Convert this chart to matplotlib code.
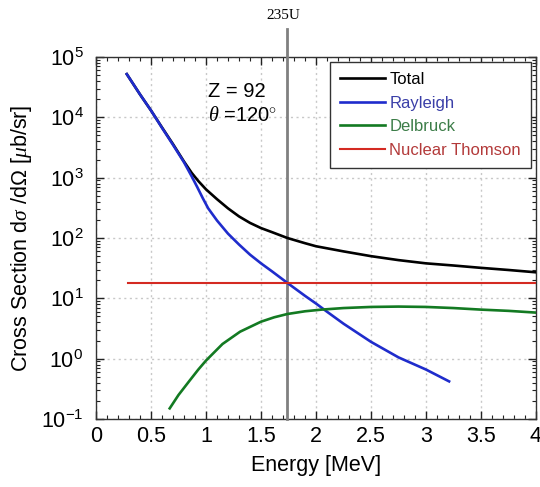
import matplotlib
matplotlib.use("Agg")
import matplotlib.pyplot as plt
from matplotlib.ticker import LogLocator, MultipleLocator, NullFormatter

plt.rcParams['font.family'] = ['Liberation Sans', 'DejaVu Sans']
plt.rcParams['mathtext.fontset'] = 'custom'
plt.rcParams['mathtext.rm'] = 'Liberation Sans'
plt.rcParams['mathtext.it'] = 'Liberation Serif:italic'
plt.rcParams['mathtext.bf'] = 'Liberation Sans:bold'

# Differential cross sections for 235U at theta = 120 deg (microbarn / sr)
total_E = [0.28, 0.4, 0.5, 0.6, 0.7, 0.8, 0.87, 0.93, 1.0, 1.1, 1.2, 1.3, 1.4, 1.5,
           1.6, 1.74, 1.9, 2.0, 2.25, 2.5, 2.75, 3.0, 3.25, 3.5, 3.75, 4.0]
total_xs = [5.2e4, 2.4e4, 1.3e4, 6.8e3, 3.6e3, 1.85e3, 1.2e3, 880, 640, 440, 310, 228,
            178, 146, 125, 100, 82, 73, 60, 50, 43, 38, 35, 32, 29.5, 27]

rayleigh_E = [0.28, 0.4, 0.5, 0.6, 0.7, 0.8, 0.87, 0.92, 0.97, 1.02, 1.1, 1.2, 1.3,
              1.4, 1.5, 1.6, 1.74, 1.9, 2.0, 2.1, 2.25, 2.5, 2.75, 3.0, 3.21]
rayleigh_xs = [5.2e4, 2.4e4, 1.3e4, 6.7e3, 3.5e3, 1.8e3, 1.05e3, 700, 460, 310, 195,
               118, 78, 53, 38, 28, 18, 11, 8.2, 6.0, 3.8, 1.9, 1.05, 0.66, 0.42]

delbruck_E = [0.67, 0.75, 0.85, 0.93, 1.0, 1.15, 1.31, 1.5, 1.62, 1.74, 1.9, 2.05,
              2.25, 2.5, 2.75, 3.0, 3.25, 3.5, 3.75, 4.0]
delbruck_xs = [0.15, 0.25, 0.43, 0.66, 0.93, 1.75, 2.8, 4.1, 4.85, 5.5, 6.1, 6.5,
               6.9, 7.2, 7.3, 7.2, 6.9, 6.5, 6.2, 5.8]

thomson_E = [0.29, 4.0]
thomson_xs = [18.2, 18.2]

line_235U = 1.74

fig = plt.figure(figsize=(5.40, 4.87), dpi=100)
ax = fig.add_axes([96 / 540, 1 - 419 / 487, 440 / 540, 362 / 487])

ax.plot(total_E, total_xs, color='black', lw=1.9, label='Total', zorder=4)
ax.plot(rayleigh_E, rayleigh_xs, color='#1f2ccc', lw=1.9, label='Rayleigh', zorder=5)
ax.plot(delbruck_E, delbruck_xs, color='#137a22', lw=1.9, label='Delbruck', zorder=5)
ax.plot(thomson_E, thomson_xs, color='#d42a22', lw=1.5, label='Nuclear Thomson', zorder=5)

ax.set_yscale('log')
ax.set_xlim(0, 4)
ax.set_ylim(1e-1, 1e5)

ax.set_xticks([0, 0.5, 1, 1.5, 2, 2.5, 3, 3.5, 4])
ax.set_xticklabels(['0', '0.5', '1', '1.5', '2', '2.5', '3', '3.5', '4'])
ax.xaxis.set_minor_locator(MultipleLocator(0.1))
ax.yaxis.set_major_locator(LogLocator(base=10, numticks=10))
ax.yaxis.set_minor_locator(LogLocator(base=10, subs=range(2, 10), numticks=20))
ax.yaxis.set_minor_formatter(NullFormatter())

ax.tick_params(which='both', direction='in', top=True, right=True, colors='#222222')
ax.tick_params(which='major', length=6, width=1.0, labelsize=15.5)
ax.tick_params(which='minor', length=3, width=0.8)
ax.tick_params(axis='y', which='major', pad=9)
ax.tick_params(axis='x', which='major', pad=5)
for lab in ax.get_xticklabels() + ax.get_yticklabels():
    lab.set_color('black')

ax.grid(True, which='major', ls=(0, (1.5, 2.5)), color='#c8c8c8', lw=1.0)
for s in ax.spines.values():
    s.set_color('#333333')
    s.set_linewidth(1.0)

ax.set_xlabel('Energy [MeV]', fontsize=15.5, labelpad=6)
ax.set_ylabel(r'Cross Section d$\sigma$ /d$\Omega$ [$\mu$b/sr]', fontsize=15.5, labelpad=5)

# 235U marker line extending above the frame
ax.axvline(line_235U, ymin=0, ymax=1.077, color='#808080', lw=2.0, clip_on=False, zorder=3)
ax.text(line_235U - 0.04, 1.116, '235U', transform=ax.get_xaxis_transform(),
        ha='center', va='center', fontsize=11, family='Liberation Serif')

ax.text(1.02, 0.905, 'Z = 92', transform=ax.get_xaxis_transform(), fontsize=14.5,
        ha='left', va='center')
ax.text(1.02, 0.838, r'$\theta$ =120$^{\circ}$', transform=ax.get_xaxis_transform(),
        fontsize=14.5, ha='left', va='center')

leg = ax.legend(loc='upper right', bbox_to_anchor=(435 / 440, 1 - 5 / 362), fontsize=12,
                frameon=True, fancybox=False, edgecolor='#333333', framealpha=1,
                handlelength=2.7, handletextpad=0.25, labelspacing=0.52,
                borderpad=0.6, borderaxespad=0.0)
leg.get_frame().set_linewidth(1.0)
leg_colors = ['black', '#3a3fa8', '#3c7d48', '#b33a3a']
for txt, c in zip(leg.get_texts(), leg_colors):
    txt.set_color(c)
leg.set_zorder(10)

fig.savefig('out.png', dpi=100)
